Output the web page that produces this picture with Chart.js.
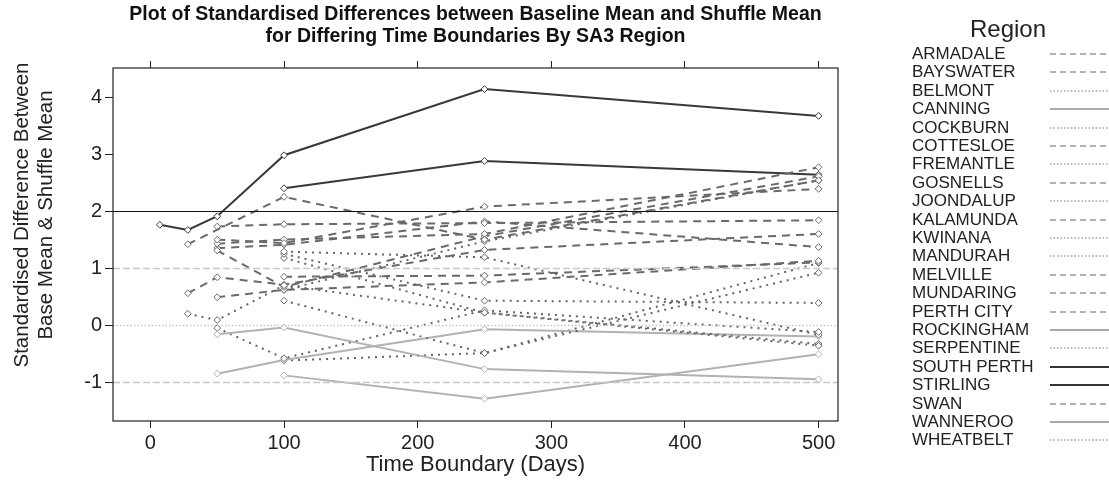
<!DOCTYPE html>
<html>
<head>
<meta charset="utf-8">
<script src="https://cdn.jsdelivr.net/npm/chart.js@4.4.1/dist/chart.umd.min.js"></script>
<style>
  html, body { margin: 0; padding: 0; background: #fff; }
  #wrap { position: relative; width: 1109px; height: 486px; font-family: 'Liberation Sans', Arial, sans-serif; }
  #chart { position: absolute; left: 0; top: 0; }
  #legend { position: absolute; left: 0; top: 0; width: 1109px; height: 486px; pointer-events: none; }
  .leg-title { position: absolute; left: 950px; width: 116px; top: 15px; text-align: center; font-size: 24px; line-height: 28px; color: #222; }
  .leg-row { position: absolute; left: 912px; height: 18px; line-height: 18px; font-size: 17px; color: #222; white-space: nowrap; }
  .leg-row svg { position: absolute; left: 138px; top: 7px; }
</style>
</head>
<body>
<div id="wrap">
  <canvas id="chart" width="1109" height="486"></canvas>
  <div id="legend"></div>
</div>
<script>
// time boundaries (days) and the SA3 regions
const xDays   = [7, 28, 50, 100, 250, 500];
const xTicks  = [0, 100, 200, 300, 400, 500];
const yTicks  = [-1, 0, 1, 2, 3, 4];
const refLines = [2, 1, 0, -1];

const regions = ['ARMADALE', 'BAYSWATER', 'BELMONT', 'CANNING', 'COCKBURN', 'COTTESLOE',
  'FREMANTLE', 'GOSNELLS', 'JOONDALUP', 'KALAMUNDA', 'KWINANA', 'MANDURAH', 'MELVILLE',
  'MUNDARING', 'PERTH CITY', 'ROCKINGHAM', 'SERPENTINE', 'SOUTH PERTH', 'STIRLING',
  'SWAN', 'WANNEROO', 'WHEATBELT'];

// standardised differences, one value per time boundary (null = no value)
const armadale   = [null, 1.42, null, 2.25, 1.50, 2.54];
const bayswater  = [null, null, 1.73, 1.77, 1.79, 1.84];
const belmont    = [null, 0.20, 0.09, 0.70, 0.22, -0.36];
const canning    = [null, null, -0.16, -0.04, -0.77, -0.95];
const cockburn   = [null, null, -0.05, -0.58, 0.26, -0.12];
const cottesloe  = [null, null, 1.50, 1.44, 2.08, 2.39];
const fremantle  = [null, null, null, 0.43, -0.49, 0.92];
const gosnells   = [null, null, 1.43, 1.50, 1.60, 2.77];
const joondalup  = [null, null, null, 1.29, 1.19, -0.17];
const kalamunda  = [null, null, 1.31, 0.67, 1.56, 2.61];
const kwinana    = [null, null, null, 1.25, 0.43, 0.39];
const mandurah   = [null, null, null, 1.18, 0.22, -0.33];
const melville   = [null, 0.56, 0.84, 0.71, 1.32, 1.60];
const mundaring  = [null, null, 0.49, 0.62, 0.75, 1.13];
const perthCity  = [null, null, 1.35, 1.41, 1.82, 1.37];
const rockingham = [null, null, -0.85, -0.61, -0.07, -0.20];
const serpentine = [null, null, null, 0.62, 1.47, 2.54];
const southPerth = [1.76, 1.67, 1.91, 2.98, 4.14, 3.67];
const stirling   = [null, null, null, 2.40, 2.88, 2.64];
const swan       = [null, null, null, 0.85, 0.87, 1.10];
const wanneroo   = [null, null, null, -0.88, -1.29, -0.51];
const wheatbelt  = [null, null, null, -0.62, -0.49, 1.09];

const regionValues = [armadale, bayswater, belmont, canning, cockburn, cottesloe,
  fremantle, gosnells, joondalup, kalamunda, kwinana, mandurah, melville,
  mundaring, perthCity, rockingham, serpentine, southPerth, stirling,
  swan, wanneroo, wheatbelt];

// line type per region
const regionLty = ['dash', 'dash', 'dot', 'grey', 'dot', 'dash',
  'dot', 'dash', 'dot', 'dash', 'dot', 'dot', 'dash',
  'dash', 'dash', 'grey', 'dot', 'dark', 'dark',
  'dash', 'grey', 'dot'];

const yTitle = ['Standardised Difference Between', 'Base Mean & Shuffle Mean'];

const FONT = "'Liberation Sans', Arial, sans-serif";

const styles = {
  dash: { color: '#6a6a6a', width: 2, dash: [8, 6], legColor: '#666', legWidth: 1, legDash: '6 4' },
  dot:  { color: '#666666', width: 2, dash: [2, 5], legColor: '#777', legWidth: 1, legDash: '1.5 2' },
  grey: { color: '#b2b2b2', width: 2, dash: [],     legColor: '#aaa', legWidth: 2, legDash: '' },
  dark: { color: '#383838', width: 2, dash: [],     legColor: '#333', legWidth: 2, legDash: '' }
};

const datasets = regions.map((name, i) => {
  const st = styles[regionLty[i]];
  const pts = [];
  regionValues[i].forEach((v, j) => { if (v !== null) pts.push({ x: xDays[j], y: v }); });
  return {
    label: name,
    data: pts,
    borderColor: st.color,
    borderWidth: st.width,
    borderDash: st.dash,
    pointStyle: 'rectRot',
    pointRadius: 3.4,
    pointBackgroundColor: '#fff',
    pointBorderColor: st.color,
    pointBorderWidth: 1,
    tension: 0,
    fill: false
  };
});

const refPlugin = {
  id: 'refs',
  afterDatasetsDraw(chart) {
    const { ctx: c, chartArea: { left, right, top, bottom }, scales: { y } } = chart;
    c.save();
    refLines.forEach(v => {
      const py = Math.round(y.getPixelForValue(v)) + 0.5;
      if (v === 2) { c.strokeStyle = '#111'; c.lineWidth = 1.2; c.setLineDash([]); }
      else if (v === 0) { c.strokeStyle = '#c4c4c4'; c.lineWidth = 1.5; c.setLineDash([1.5, 2]); }
      else { c.strokeStyle = '#c8c8c8'; c.lineWidth = 1.5; c.setLineDash([7, 3]); }
      c.beginPath(); c.moveTo(left, py); c.lineTo(right, py); c.stroke();
    });
    c.setLineDash([]);
    c.strokeStyle = '#222';
    c.lineWidth = 1.2;
    c.strokeRect(left, top, right - left, bottom - top);
    c.restore();
  },
  afterDraw(chart) {
    // y axis title sits a bit above the plot centre in the original
    const c = chart.ctx;
    c.save();
    c.fillStyle = '#222';
    c.font = '20.5px ' + FONT;
    c.textAlign = 'center';
    c.textBaseline = 'middle';
    yTitle.forEach((t, i) => {
      c.save();
      c.translate(22 + i * 24, 215);
      c.rotate(-Math.PI / 2);
      c.fillText(t, 0, 0);
      c.restore();
    });
    c.restore();
  }
};

const setXTicks = s => { s.ticks = xTicks.map(v => ({ value: v })); };
const setYTicks = s => { s.ticks = yTicks.map(v => ({ value: v })); };

new Chart(document.getElementById('chart'), {
  type: 'line',
  data: { datasets },
  plugins: [refPlugin],
  options: {
    responsive: false,
    animation: false,
    layout: { padding: { left: 0, right: 271, top: 0, bottom: 0 } },
    plugins: { legend: { display: false }, tooltip: { enabled: false }, title: { display: false } },
    scales: {
      x: {
        type: 'linear', position: 'bottom', min: -28, max: 514.5,
        afterBuildTicks: setXTicks,
        afterFit: s => { s.height = 65; },
        border: { display: false },
        grid: { drawOnChartArea: false, drawTicks: true, tickLength: 7, tickColor: '#222', color: '#222' },
        ticks: { color: '#222', font: { size: 20, family: FONT }, padding: 3, maxRotation: 0 },
        title: { display: true, text: 'Time Boundary (Days)', color: '#222', font: { size: 22, family: FONT }, padding: { top: 0, bottom: 8 } }
      },
      xTop: {
        type: 'linear', position: 'top', min: -28, max: 514.5,
        afterBuildTicks: setXTicks,
        afterFit: s => { s.height = 68; },
        border: { display: false },
        grid: { drawOnChartArea: false, drawTicks: true, tickLength: 7, tickColor: '#222', color: '#222' },
        ticks: { display: false },
        title: {
          display: true,
          text: ['Plot of Standardised Differences between Baseline Mean and Shuffle Mean',
                 'for Differing Time Boundaries By SA3 Region'],
          color: '#111',
          font: { size: 19.5, weight: 'bold', family: FONT, lineHeight: '22px' },
          padding: { top: 4, bottom: 0 }
        }
      },
      y: {
        type: 'linear', position: 'left', min: -1.68, max: 4.51,
        afterBuildTicks: setYTicks,
        afterFit: s => { s.width = 113; },
        border: { display: false },
        grid: { drawOnChartArea: false, drawTicks: true, tickLength: 8, tickColor: '#222', color: '#222' },
        ticks: { color: '#222', font: { size: 20, family: FONT }, padding: 3 },
        title: { display: false }
      }
    }
  }
});

// legend: region name on the left, line sample on the right
const legend = document.getElementById('legend');
legend.innerHTML = '<div class="leg-title">Region</div>' + regions.map((name, i) => {
  const st = styles[regionLty[i]];
  const top = 45 + i * 18.4;
  const dash = st.legDash ? ` stroke-dasharray="${st.legDash}"` : '';
  return `<div class="leg-row" style="top:${top}px">${name}` +
    `<svg width="59" height="4"><line x1="0" y1="2" x2="59" y2="2" stroke="${st.legColor}" stroke-width="${st.legWidth}"${dash}/></svg></div>`;
}).join('');
</script>
</body>
</html>
